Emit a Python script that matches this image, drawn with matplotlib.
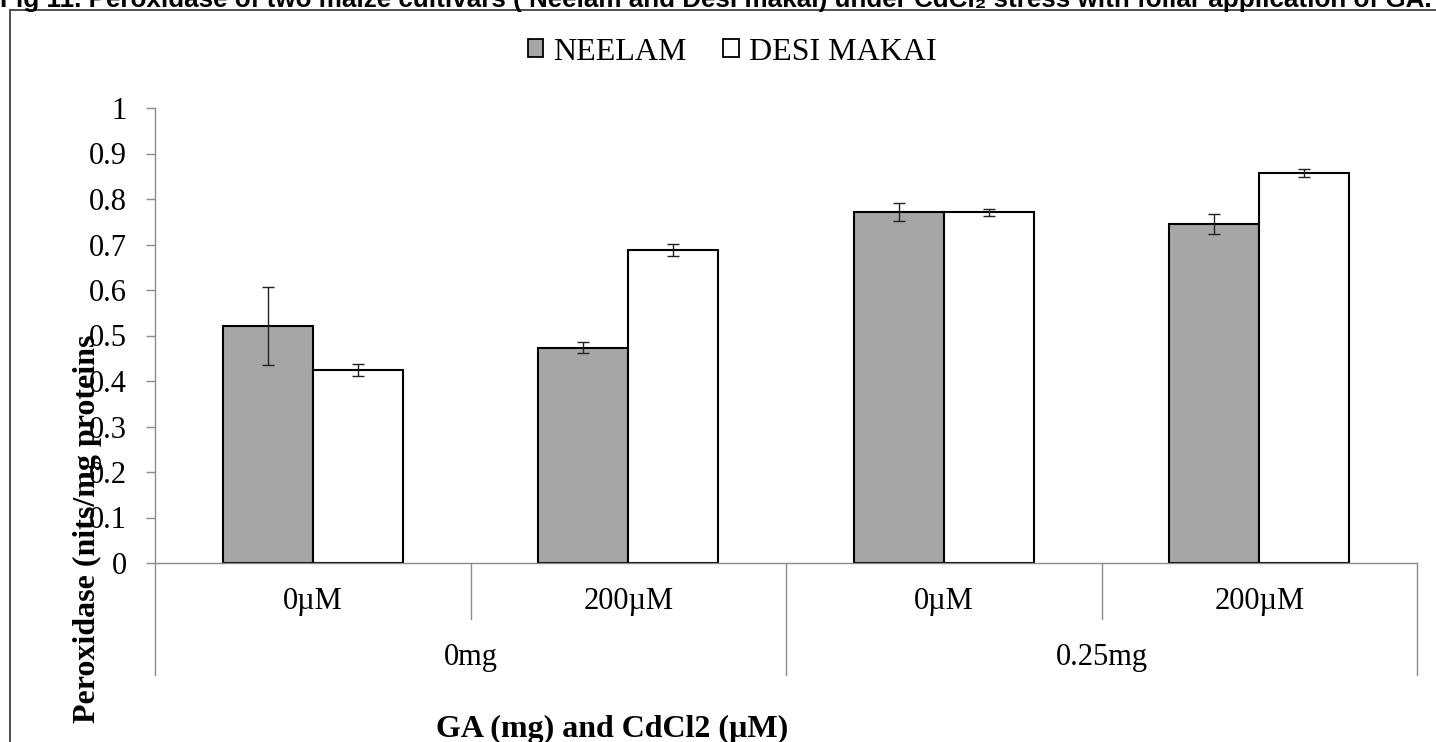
import matplotlib
matplotlib.use("Agg")
import matplotlib.pyplot as plt
from matplotlib.patches import Patch, Rectangle
from matplotlib.transforms import blended_transform_factory
import numpy as np

# ---- data ----
cdcl2_labels = ["0µM", "200µM", "0µM", "200µM"]
ga_labels = ["0mg", "0.25mg"]
series_names = ["NEELAM", "DESI MAKAI"]
neelam = [0.521, 0.473, 0.771, 0.746]
neelam_err = [0.086, 0.012, 0.020, 0.022]
desi = [0.424, 0.687, 0.771, 0.858]
desi_err = [0.013, 0.013, 0.008, 0.009]
yticks = [0, 0.1, 0.2, 0.3, 0.4, 0.5, 0.6, 0.7, 0.8, 0.9, 1]
ytick_labels = ["0", "0.1", "0.2", "0.3", "0.4", "0.5", "0.6", "0.7", "0.8", "0.9", "1"]
title = "Fig 11. Peroxidase of two maize cultivars ( Neelam and Desi makai) under CdCl\u2082 stress with foliar application of GA."
ylabel = "Peroxidase (nits/mg proteins"
xlabel = "GA (mg) and CdCl2 (µM)"

W, H = 1436, 742
DPI = 100
fig = plt.figure(figsize=(W / DPI, H / DPI), dpi=DPI)
serif = "Liberation Serif"
FS = 23
AXC = "#8c8c8c"

def fx(px):
    return px / W

def fy(py):
    return 1 - py / H

# outer frame
fig.add_artist(Rectangle((fx(10), fy(760)), fx(1460) - fx(10), fy(10) - fy(760),
                         transform=fig.transFigure, fill=False, edgecolor="#404040", lw=1.3))

ax = fig.add_axes([fx(155), fy(563), fx(1417) - fx(155), fy(108) - fy(563)])
x = np.arange(len(cdcl2_labels))
bw = 0.285
ax.bar(x - bw / 2, neelam, bw, color="#a6a6a6", edgecolor="black", lw=1.5, zorder=2)
ax.bar(x + bw / 2, desi, bw, color="white", edgecolor="black", lw=1.5, zorder=2)
ax.errorbar(x - bw / 2, neelam, yerr=neelam_err, fmt="none", ecolor="#222222", elinewidth=1.0,
            capsize=4.5, capthick=1.0, zorder=3)
ax.errorbar(x + bw / 2, desi, yerr=desi_err, fmt="none", ecolor="#222222", elinewidth=1.0,
            capsize=4.5, capthick=1.0, zorder=3)

ax.set_xlim(-0.5, len(x) - 0.5)
ax.set_ylim(0, 1)
ax.set_yticks(yticks)
ax.set_yticklabels(ytick_labels, fontfamily=serif, fontsize=22)
ax.tick_params(axis="y", length=6.5, width=1, color=AXC, pad=14)
ax.set_xticks([])
for s in ["top", "right"]:
    ax.spines[s].set_visible(False)
for s in ["left", "bottom"]:
    ax.spines[s].set_color(AXC)
    ax.spines[s].set_linewidth(1.0)
ax.patch.set_alpha(0)

tr = blended_transform_factory(ax.transData, ax.transAxes)
ah = 455.0
for i, xs in enumerate(np.arange(-0.5, len(x), 1.0)):
    long = (i % 2 == 0)
    depth = (112 if long else 56) / ah
    ax.plot([xs, xs], [0, -depth], transform=tr, color=AXC, lw=1.0, clip_on=False)
for i, lab in enumerate(cdcl2_labels):
    ax.text(i, -39 / ah, lab, transform=tr, ha="center", va="center", fontfamily=serif, fontsize=22)
for j, lab in enumerate(ga_labels):
    ax.text(2 * j + 0.5, -95 / ah, lab, transform=tr, ha="center", va="center", fontfamily=serif, fontsize=22)

# legend
handles = [Patch(facecolor="#a6a6a6", edgecolor="black", lw=1.3),
           Patch(facecolor="white", edgecolor="black", lw=1.3)]
fig.legend(handles, series_names, loc="center", bbox_to_anchor=(fx(732), fy(52)), ncol=2,
           frameon=False, prop={"family": serif, "size": FS}, handlelength=0.5, handleheight=0.5,
           handletextpad=0.3, columnspacing=1.15)

fig.text(fx(87), fy(529), ylabel, rotation=90, ha="center", va="center", fontfamily=serif,
         fontweight="bold", fontsize=FS)
fig.text(fx(612), fy(737), xlabel, ha="center", va="baseline", fontfamily=serif,
         fontweight="bold", fontsize=FS)

# title (partially clipped at top as in reference)
t = fig.text(fx(0), fy(7), title, ha="left", va="baseline",
             fontfamily=["Liberation Sans", "DejaVu Sans"], fontweight="bold", fontsize=17)
fig.canvas.draw()
bb = t.get_window_extent()
t.set_fontsize(17 * 1430 / bb.width)

fig.savefig("out.png", dpi=DPI)
